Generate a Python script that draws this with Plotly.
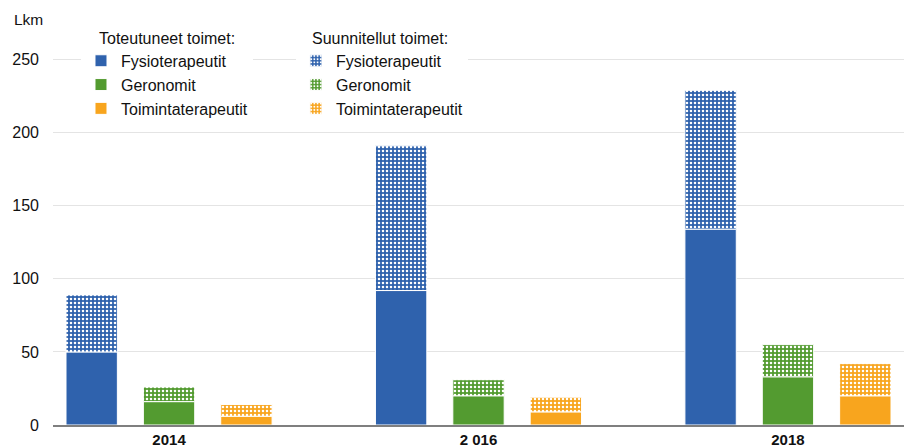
import plotly.graph_objects as go

years = ["2014", "2 016", "2018"]
professions = ["Fysioterapeutit", "Geronomit", "Toimintaterapeutit"]
realized = {
    "Fysioterapeutit": [50, 92, 134],
    "Geronomit": [16, 20, 33],
    "Toimintaterapeutit": [6, 9, 20],
}
planned = {
    "Fysioterapeutit": [39, 99, 95],
    "Geronomit": [10, 11, 22],
    "Toimintaterapeutit": [8, 10, 22],
}
colors = {
    "Fysioterapeutit": "#2F62AD",
    "Geronomit": "#539B30",
    "Toimintaterapeutit": "#F8A51E",
}
y_ticks = [0, 50, 100, 150, 200, 250]
legend_titles = ["Toteutuneet toimet:", "Suunnitellut toimet:"]

FONT = "Liberation Sans, Arial, sans-serif"
TXT = "#111111"
BAR_W = 0.166
offsets = [-0.25 - BAR_W / 2, -BAR_W / 2, 0.25 - BAR_W / 2]

fig = go.Figure()
for i, p in enumerate(professions):
    fig.add_trace(go.Bar(
        x=years, y=realized[p], name=p, width=BAR_W, offset=offsets[i],
        marker=dict(color=colors[p], line=dict(color="white", width=1)),
        legend="legend", hoverinfo="skip",
    ))
for i, p in enumerate(professions):
    fig.add_trace(go.Bar(
        x=years, y=planned[p], base=realized[p], name=p, width=BAR_W, offset=offsets[i],
        marker=dict(color=colors[p], line=dict(color="white", width=1),
                    pattern=dict(shape=".", bgcolor=colors[p], fgcolor="white",
                                 size=4, solidity=0.32, fillmode="replace")),
        legend="legend2", hoverinfo="skip",
    ))

fig.update_layout(
    width=904, height=448,
    margin=dict(l=53, r=0, t=45, b=23),
    barmode="overlay",
    plot_bgcolor="white", paper_bgcolor="white",
    font=dict(family=FONT, size=16, color=TXT),
    xaxis=dict(type="category", range=[-0.375, 2.375], showline=True,
               linecolor="#7F7F7F", linewidth=1.5, showgrid=False, ticks="",
               tickfont=dict(family=FONT, size=15, color=TXT, weight="bold")),
    yaxis=dict(range=[0, 260], tickvals=y_ticks, showgrid=True, gridcolor="#E4E4E4",
               gridwidth=1, zeroline=False, ticks="", ticklabelstandoff=13,
               tickfont=dict(family=FONT, size=16, color=TXT)),
    legend=dict(x=0.0329, y=1.003, xanchor="left", yanchor="top", bgcolor="white",
                font=dict(size=16), traceorder="normal", tracegroupgap=0),
    legend2=dict(x=0.2855, y=1.003, xanchor="left", yanchor="top", bgcolor="white",
                 font=dict(size=16), traceorder="normal", tracegroupgap=0),
    annotations=[
        dict(text="Lkm", xref="paper", yref="paper", x=-0.048, y=1.066,
             xanchor="left", yanchor="middle", showarrow=False,
             font=dict(family=FONT, size=15.5, color=TXT)),
        dict(text=legend_titles[0], xref="paper", yref="paper", x=0.0517, y=1.018,
             xanchor="left", yanchor="middle", showarrow=False,
             font=dict(family=FONT, size=16, color=TXT)),
        dict(text=legend_titles[1], xref="paper", yref="paper", x=0.302, y=1.018,
             xanchor="left", yanchor="middle", showarrow=False,
             font=dict(family=FONT, size=16, color=TXT)),
    ],
)

fig.write_html("out.html")
